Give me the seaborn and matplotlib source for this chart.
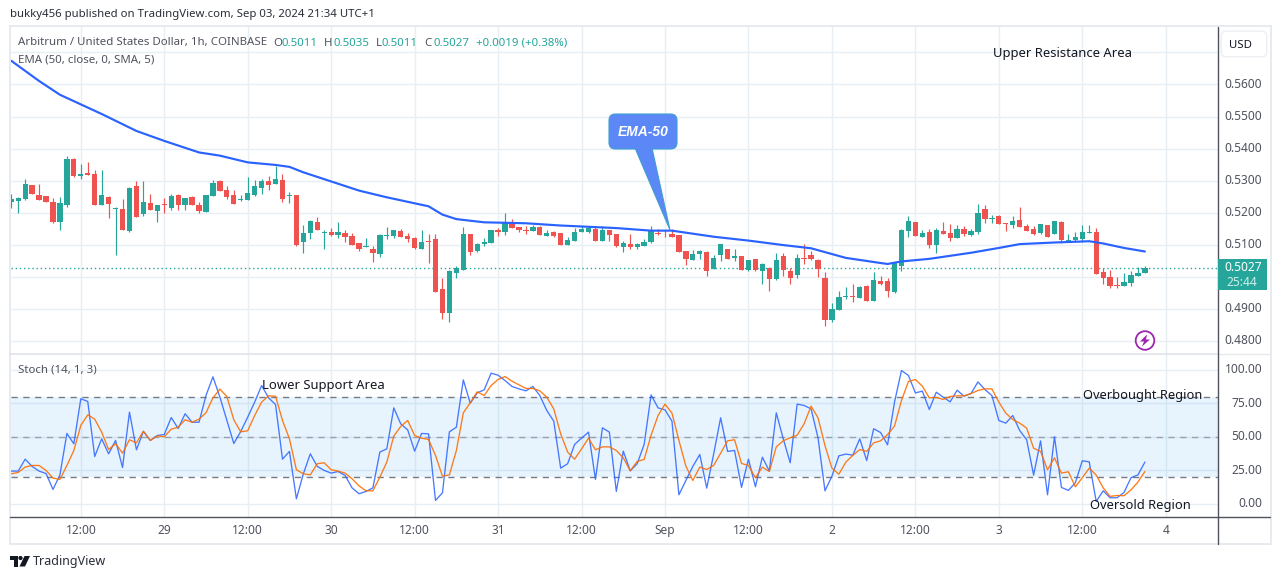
import matplotlib
matplotlib.use("Agg")
import matplotlib.pyplot as plt
import seaborn as sns
import numpy as np
from matplotlib.lines import Line2D
from matplotlib.patches import Rectangle, Polygon, FancyBboxPatch, Circle

opens = [.5233,.5236,.5242,.5286,.5255,.5252,.5233,.5171,.5223,.5367,
 .5314,.5323,.5320,.5223,.5248,.5211,.5211,.5142,.5283,.5195,
 .5230,.5205,.5227,.5214,.5255,.5223,.5248,.5223,.5202,.5252,
 .5298,.5270,.5255,.5239,.5239,.5255,.5276,.5298,.5289,.5301,
 .5252,.5254,.5108,.5136,.5170,.5136,.5139,.5130,.5136,.5127,
 .5105,.5092,.5086,.5071,.5127,.5127,.5142,.5127,.5120,.5086,
 .5111,.5117,.4962,.4887,.5011,.5021,.5133,.5080,.5102,.5105,
 .5145,.5139,.5167,.5155,.5145,.5142,.5155,.5127,.5139,.5136,
 .5099,.5111,.5139,.5139,.5148,.5113,.5145,.5132,.5092,.5101,
 .5092,.5095,.5110,.5138,.5135,.5135,.5129,.5079,.5051,.5070,
 .5076,.5023,.5067,.5088,.5060,.5064,.5020,.5057,.5017,.5029,
 .4992,.5064,.5017,.5007,.5060,.5067,.5051,.4995,.4864,.4895,
 .4936,.4939,.4933,.4970,.4924,.4987,.4987,.4952,.5033,.5142,
 .5170,.5124,.5139,.5099,.5142,.5136,.5120,.5149,.5130,.5139,
 .5211,.5180,.5189,.5167,.5161,.5177,.5158,.5149,.5136,.5161,
 .5133,.5170,.5108,.5114,.5117,.5136,.5139,.5015,.4999,.4974,
 .4971,.4980,.5002,.5011]
highs = [.5259,.5248,.5304,.5286,.5289,.5252,.5245,.5248,.5376,.5370,
 .5351,.5357,.5333,.5333,.5252,.5217,.5242,.5280,.5298,.5298,
 .5258,.5223,.5245,.5258,.5258,.5245,.5252,.5233,.5255,.5301,
 .5301,.5283,.5270,.5255,.5311,.5301,.5304,.5314,.5345,.5320,
 .5264,.5254,.5161,.5177,.5186,.5145,.5152,.5170,.5145,.5136,
 .5105,.5120,.5096,.5133,.5155,.5145,.5149,.5136,.5124,.5145,
 .5133,.5133,.4996,.5021,.5033,.5155,.5133,.5105,.5120,.5145,
 .5152,.5198,.5180,.5155,.5158,.5161,.5158,.5145,.5142,.5136,
 .5124,.5152,.5158,.5158,.5157,.5160,.5145,.5132,.5113,.5132,
 .5104,.5117,.5157,.5148,.5145,.5148,.5129,.5082,.5085,.5085,
 .5079,.5067,.5101,.5088,.5088,.5064,.5051,.5057,.5042,.5032,
 .5073,.5073,.5029,.5070,.5101,.5082,.5054,.5014,.4917,.4955,
 .4967,.4976,.4970,.4973,.5015,.5002,.4996,.5046,.5149,.5189,
 .5170,.5145,.5149,.5152,.5170,.5164,.5161,.5158,.5149,.5226,
 .5223,.5192,.5192,.5167,.5189,.5217,.5164,.5158,.5164,.5161,
 .5173,.5173,.5133,.5139,.5161,.5161,.5152,.5027,.5021,.4999,
 .5011,.5018,.5030,.5035]
lows = [.5215,.5199,.5239,.5258,.5239,.5233,.5167,.5146,.5217,.5311,
 .5304,.5317,.5223,.5223,.5183,.5068,.5146,.5139,.5186,.5189,
 .5208,.5171,.5199,.5208,.5208,.5208,.5223,.5199,.5202,.5252,
 .5267,.5242,.5227,.5236,.5239,.5252,.5258,.5270,.5289,.5233,
 .5230,.5096,.5074,.5117,.5145,.5086,.5127,.5120,.5108,.5099,
 .5080,.5092,.5046,.5061,.5117,.5120,.5124,.5108,.5086,.5086,
 .5043,.4952,.4868,.4859,.4996,.5021,.5068,.5077,.5096,.5105,
 .5127,.5130,.5152,.5139,.5133,.5142,.5130,.5127,.5124,.5099,
 .5099,.5111,.5139,.5136,.5113,.5113,.5113,.5092,.5076,.5088,
 .5088,.5095,.5107,.5129,.5123,.5123,.5076,.5036,.5051,.5054,
 .5004,.5023,.5048,.5057,.5048,.5020,.5017,.5017,.4979,.4955,
 .4989,.5004,.4976,.4995,.5039,.5051,.4998,.4845,.4858,.4895,
 .4930,.4920,.4933,.4923,.4924,.4974,.4937,.4949,.5018,.5124,
 .5127,.5124,.5089,.5074,.5133,.5111,.5120,.5127,.5127,.5133,
 .5167,.5167,.5164,.5142,.5152,.5155,.5142,.5130,.5133,.5124,
 .5133,.5105,.5108,.5108,.5108,.5136,.5008,.4977,.4965,.4965,
 .4971,.4971,.5002,.5011]
closes = [.5242,.5245,.5289,.5258,.5239,.5233,.5171,.5230,.5367,.5314,
 .5320,.5317,.5223,.5255,.5227,.5214,.5146,.5276,.5186,.5233,
 .5208,.5223,.5223,.5252,.5223,.5245,.5223,.5205,.5255,.5292,
 .5267,.5248,.5227,.5242,.5261,.5283,.5298,.5286,.5304,.5242,
 .5255,.5099,.5136,.5173,.5145,.5139,.5130,.5139,.5124,.5099,
 .5086,.5096,.5074,.5130,.5130,.5145,.5124,.5117,.5089,.5108,
 .5108,.4952,.4887,.5018,.5027,.5133,.5077,.5102,.5108,.5145,
 .5139,.5170,.5152,.5145,.5142,.5155,.5130,.5136,.5127,.5099,
 .5114,.5139,.5149,.5152,.5113,.5145,.5129,.5095,.5107,.5092,
 .5101,.5110,.5145,.5135,.5132,.5123,.5076,.5054,.5070,.5079,
 .5017,.5060,.5101,.5057,.5064,.5020,.5051,.5020,.5039,.4992,
 .5051,.5020,.4995,.5060,.5057,.5054,.5023,.4864,.4898,.4936,
 .4939,.4936,.4967,.4923,.4990,.4977,.4955,.5043,.5145,.5173,
 .5127,.5136,.5099,.5145,.5133,.5120,.5149,.5133,.5142,.5198,
 .5180,.5183,.5164,.5164,.5173,.5155,.5142,.5133,.5164,.5124,
 .5173,.5114,.5114,.5124,.5139,.5139,.5008,.4996,.4971,.4971,
 .4983,.5005,.5011,.5027]

ema_bars = [0,4,7,13,18,22,27,30,34,38,40,42,50,54,60,62,64,68,74,79,83,87,92,95,
            101,106,111,115,118,120,125,126,128,132,138,142,145,150,155,157,160,163]
ema_vals = [.5674,.5611,.5568,.5508,.5455,.5424,.5388,.5378,.5357,.5349,.5343,.5326,
            .5269,.5248,.5220,.5194,.5180,.5170,.5167,.5160,.5156,.5152,.5144,.5144,
            .5125,.5113,.5099,.5089,.5071,.5059,.5043,.5040,.5048,.5056,.5075,.5090,
            .5102,.5107,.5111,.5104,.5090,.5079]

stoch_k = [24.4,24.4,33.3,27.9,24.4,22.6,10.7,21.6,52.5,44.8,78.4,76.4,35.3,48.5,37.3,47.3,27.1,68.4,40.3,54.0,
 47.3,51.0,51.7,64.4,56.2,67.2,60.9,60.9,80.8,94.8,79.6,62.2,45.0,54.0,64.7,75.9,88.3,79.1,74.1,33.3,
 39.1,3.7,22.4,37.3,27.9,24.9,22.9,24.1,21.1,11.9,7.5,9.2,11.9,38.6,41.0,71.6,59.7,55.2,39.3,52.5,
 52.2,2.5,8.2,53.7,57.2,92.5,75.1,82.8,85.1,97.5,96.0,92.0,87.6,85.8,84.3,87.6,80.8,69.7,61.7,26.6,
 29.9,44.3,49.0,53.5,18.2,56.7,53.5,9.2,39.3,24.6,29.9,44.3,81.3,71.6,70.1,61.7,6.7,17.4,27.9,36.8,
 11.7,37.3,64.2,39.1,39.8,12.2,33.3,12.7,34.8,24.4,67.9,48.5,30.6,74.4,73.4,70.9,49.3,9.7,20.6,35.8,
 37.1,36.3,48.5,32.3,56.0,53.2,44.0,75.9,99.5,95.8,82.8,84.1,70.4,83.3,79.6,76.1,84.8,80.3,82.3,91.0,
 85.3,80.8,62.2,60.2,65.9,54.7,47.8,21.4,47.0,6.7,50.0,12.2,10.0,15.7,32.1,31.3,1.7,9.7,4.5,4.5,
 8.5,19.4,21.6,31.1]
stoch_d = [22.4,23.4,27.4,28.6,28.6,24.9,19.2,18.2,28.6,39.8,58.5,66.4,63.2,53.5,40.5,44.8,37.8,47.8,45.5,54.2,
 47.3,50.7,50.0,55.7,57.2,62.7,60.9,63.2,67.9,79.1,85.6,80.1,62.7,53.7,54.5,65.9,75.9,80.6,80.3,62.2,
 48.5,25.4,22.4,21.6,29.9,30.6,25.4,24.4,22.9,18.7,13.4,9.7,9.7,19.9,31.1,50.5,57.7,62.2,51.0,49.0,
 48.0,36.1,20.6,21.6,39.8,67.9,75.4,83.6,80.8,88.3,92.8,95.0,91.5,88.8,86.1,86.1,84.3,79.6,70.9,52.2,
 38.6,33.3,41.0,49.0,40.3,42.5,42.5,39.8,34.3,24.6,31.6,33.1,51.2,65.9,74.4,67.7,47.3,28.1,17.4,27.4,
 25.6,28.6,37.8,47.0,47.8,30.1,28.6,19.4,27.4,24.1,42.5,47.0,49.3,51.2,59.7,72.9,64.2,43.5,26.6,22.1,
 31.1,36.1,40.5,39.1,45.5,47.0,51.7,58.0,77.1,91.3,92.8,87.8,79.1,79.4,77.9,80.1,80.6,80.6,82.3,84.6,
 85.8,85.8,75.9,67.7,62.9,60.2,56.5,41.5,39.1,25.4,34.3,22.9,23.9,12.7,19.4,26.6,21.4,11.9,5.5,6.2,
 6.0,10.4,16.2,24.1]

x_ticks = [10,22,34,46,58,70,82,94,106,118,130,142,154,166]
x_labels = ["12:00","29","12:00","30","12:00","31","12:00","Sep","12:00","2","12:00","3","12:00","4"]
price_ticks = [.48,.49,.50,.51,.52,.53,.54,.55,.56,.57]
price_labels = ["0.4800","0.4900","","0.5100","0.5200","0.5300","0.5400","0.5500","0.5600",""]
stoch_ticks = [0,25,50,75,100]
stoch_labels = ["0.00","25.00","50.00","75.00","100.00"]

W, H = 1281, 579
FONT = ["Noto Sans", "DejaVu Sans"]
TEAL, RED = "#26a69a", "#ef5350"
GRID = "#e8eff4"
TXT = "#50535e"
DARK = "#131722"

sns.set_theme(style="whitegrid", rc={"grid.color": GRID, "grid.linewidth": 1.0,
                                     "axes.edgecolor": "#e4e7ec", "axes.linewidth": 1.0})
plt.rcParams["font.family"] = FONT

fig = plt.figure(figsize=(W/100, H/100), dpi=100, facecolor="white")

def fx(x): return x / W
def fy(y): return 1 - y / H

L, R, T, M, B = 10.5, 1217.5, 26.0, 353.5, 516.5
ax = fig.add_axes([fx(L), fy(M), fx(R - L), (M - T) / H])
ax2 = fig.add_axes([fx(L), fy(B), fx(R - L), (B - M) / H])

idx = np.arange(len(closes))
o, h, l, c = map(np.array, (opens, highs, lows, closes))
cols = [TEAL if cc >= oo else RED for oo, cc in zip(o, c)]

ax.vlines(idx, l, h, colors=cols, linewidth=0.85, zorder=3)
ax.bar(idx, np.maximum(np.abs(c - o), 0.0003), bottom=np.minimum(o, c), width=0.76,
       color=cols, linewidth=0, zorder=4)
sns.lineplot(x=ema_bars, y=ema_vals, ax=ax, color="#2962ff", linewidth=1.55, legend=False,
             errorbar=None, zorder=5)
ax.axhline(closes[-1], color=TEAL, linewidth=1.0, linestyle=(0, (1, 2)), zorder=2)
ax.set_xlim(-0.108, 173.44)
ax.set_ylim(0.47607, 0.57825)
ax.set_yticks(price_ticks)
ax.set_yticklabels(price_labels)
ax.set_xticks(x_ticks)
ax.tick_params(axis="x", labelbottom=False, length=0)
ax.set_xlabel(""); ax.set_ylabel("")

ax2.axhspan(20, 80, color="#2196f3", alpha=0.105, linewidth=0, zorder=1.5)
ax2.axhline(80, color="#787b86", linewidth=1.0, linestyle=(0, (4.5, 4)), zorder=2)
ax2.axhline(20, color="#787b86", linewidth=1.0, linestyle=(0, (4.5, 4)), zorder=2)
ax2.axhline(50, color="#787b86", linewidth=1.0, alpha=0.65, linestyle=(0, (4.5, 4)), zorder=2)
sns.lineplot(x=idx, y=stoch_k, ax=ax2, color="#2962ff", linewidth=0.95, alpha=0.85, legend=False,
             errorbar=None, zorder=3)
sns.lineplot(x=idx, y=stoch_d, ax=ax2, color="#ff6d00", linewidth=0.95, alpha=0.9, legend=False,
             errorbar=None, zorder=4)
ax2.set_xlim(-0.108, 173.44)
ax2.set_ylim(-9.5, 112.2)
ax2.set_yticks(stoch_ticks)
ax2.set_yticklabels(stoch_labels)
ax2.set_xticks(x_ticks)
ax2.set_xticklabels(x_labels)
ax2.set_xlabel(""); ax2.set_ylabel("")

for a in (ax, ax2):
    a.set_axisbelow(True)
    a.yaxis.tick_right()
    a.tick_params(axis="y", length=0, pad=32.2, labelsize=8.6, labelcolor=TXT)
    for t in a.get_yticklabels():
        t.set_ha("right")
        t.set_va("center")
    for s in a.spines.values():
        s.set_visible(False)
ax2.tick_params(axis="x", length=0, pad=5.6, labelsize=8.6, labelcolor=TXT)

def line(x0, y0, x1, y1, color, lw=1.0, z=6):
    fig.add_artist(Line2D([fx(x0), fx(x1)], [fy(y0), fy(y1)], color=color, linewidth=lw, zorder=z))

def text(x, y, s, size=8.6, color=TXT, ha="left", **kw):
    fig.text(fx(x), fy(y + 1), s, fontsize=size, color=color, ha=ha, va="center", zorder=12, **kw)

# chart frame
FR = "#e7eaef"
line(10, 26, 1271, 26, FR, 1.4)
line(10, 26, 10, 544, FR, 1.4)
line(10, 544, 1271, 544, FR, 1.4)
line(1271, 26, 1271, 544, FR, 1.4)
line(10, M, R, M, "#dfe3e8", 1.2)
line(R, M, 1270, M, "#e6e9ee", 1.0)
line(R, 27, R, 544, "#50535e", 1.0, 7)
line(10, B, R, B, "#50535e", 1.0, 7)
line(R, B, 1270, B, "#50535e", 1.0, 7)

# last-price tag
fig.add_artist(Rectangle((fx(R), fy(290)), fx(1267 - R), 31 / H, transform=fig.transFigure,
                         facecolor=TEAL, edgecolor="none", zorder=8))
text(1262, 266.5, "0.5027", 8.6, "white", ha="right", fontweight="bold")
text(1257, 281.5, "25:44", 8.6, "#cdeeea", ha="right")

# USD button
fig.add_artist(FancyBboxPatch((fx(1224), fy(54)), fx(40), 20 / H, transform=fig.transFigure,
                              boxstyle="round,pad=0.0022,rounding_size=0.004",
                              facecolor="white", edgecolor="#eceff3", linewidth=1.0, zorder=8,
                              mutation_aspect=W / H))
text(1240, 44, "USD", 8.2, DARK, ha="center")

# header + legends
text(10, 14, "bukky456 published on TradingView.com, Sep 03, 2024 21:34 UTC+1", 8.2, "#2a2e39")
text(18, 42, "Arbitrum / United States Dollar, 1h, COINBASE", 8.25)
for xx, s, col in [(273, "O", TXT), (282, "0.5011", TEAL), (324, "H", TXT), (333, "0.5035", TEAL),
                   (376, "L", TXT), (382, "0.5011", TEAL), (424, "C", TXT), (433, "0.5027", TEAL),
                   (476, "+0.0019 (+0.38%)", TEAL)]:
    text(xx, 42, s, 8.25, col)
text(18, 59, "EMA (50, close, 0, SMA, 5)", 8.25)
text(18, 369, "Stoch (14, 1, 3)", 8.25)

# hand-drawn notes
text(993, 52, "Upper Resistance Area", 9.4, DARK)
text(262, 385, "Lower Support Area", 9.4, DARK)
text(1083, 394, "Overbought Region", 9.25, DARK)
text(1090, 505, "Oversold Region", 9.3, DARK)

# EMA-50 callout
CALL, EDGE = "#5b87f7", "#3f9fd0"
fig.add_artist(Polygon([(fx(635), fy(148)), (fx(652), fy(148)), (fx(670), fy(230))], closed=True,
                       transform=fig.transFigure, facecolor=CALL, edgecolor=EDGE, linewidth=0.8, zorder=9))
fig.add_artist(FancyBboxPatch((fx(614), fy(144)), fx(58), 25 / H, transform=fig.transFigure,
                              boxstyle="round,pad=0.0039,rounding_size=0.005",
                              facecolor=CALL, edgecolor=EDGE, linewidth=0.8, zorder=9,
                              mutation_aspect=W / H))
fig.add_artist(Polygon([(fx(636), fy(150)), (fx(651), fy(150)), (fx(651), fy(146)), (fx(636), fy(146))], closed=True,
                       transform=fig.transFigure, facecolor=CALL, edgecolor="none", zorder=10))
text(643, 130.5, "EMA-50", 10.0, "white", ha="center", fontstyle="italic", fontweight="bold",
     family=["Liberation Sans", "DejaVu Sans"])

# bolt badge
bolt_ax = fig.add_axes([fx(1134), fy(351.5), fx(22), 22 / H], zorder=11)
bolt_ax.set_xlim(-11, 11); bolt_ax.set_ylim(-11, 11); bolt_ax.axis("off")
bolt_ax.patch.set_alpha(0)
bolt_ax.add_patch(Circle((0, 0), 9.3, facecolor="white", edgecolor="#9c27b0", linewidth=1.3))
bolt_ax.add_patch(Polygon([(2, 6), (-5, -1), (-1, -1), (-3, -6), (5, 1), (1, 1)], closed=True,
                          facecolor="#9c27b0", edgecolor="none"))

# TradingView logo
LOGO = "#131722"
fig.add_artist(Polygon([(fx(10), fy(556)), (fx(18), fy(556)), (fx(18), fy(566.5)), (fx(14), fy(566.5)),
                        (fx(14), fy(560)), (fx(10), fy(560))], closed=True, transform=fig.transFigure,
                       facecolor=LOGO, edgecolor="none"))
fig.add_artist(Polygon([(fx(24.5), fy(556)), (fx(30), fy(556)), (fx(25), fy(566.5)), (fx(19.5), fy(566.5))],
                       closed=True, transform=fig.transFigure, facecolor=LOGO, edgecolor="none"))
logo_ax = fig.add_axes([fx(18), fy(560.5), fx(5), 5 / H], zorder=11)
logo_ax.set_xlim(-1, 1); logo_ax.set_ylim(-1, 1); logo_ax.axis("off")
logo_ax.add_patch(Circle((0, 0), 0.85, facecolor=LOGO, edgecolor="none"))
text(33, 561, "TradingView", 9.0, "#2a2e39")

fig.savefig("out.png", dpi=100, facecolor="white")
